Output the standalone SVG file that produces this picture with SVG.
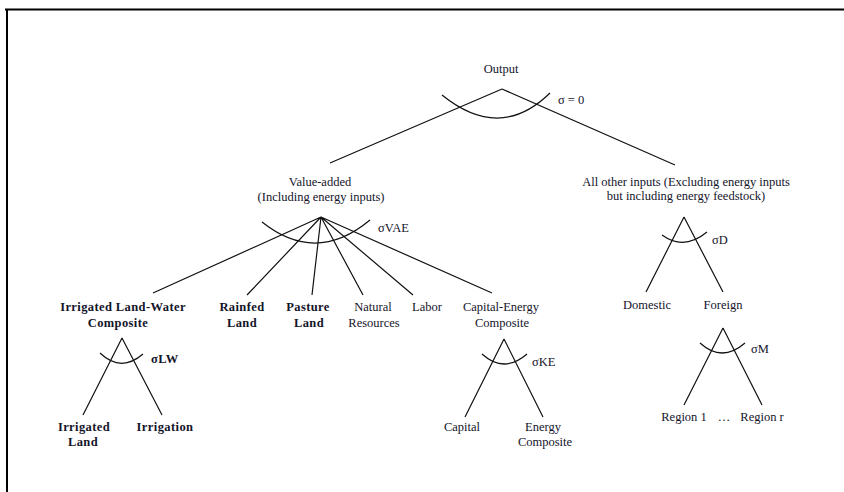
<svg xmlns="http://www.w3.org/2000/svg" width="844" height="492" viewBox="0 0 844 492">
<style>
text{font-family:"Liberation Serif","Times New Roman",serif;font-size:12.5px;fill:#14142a;text-anchor:middle}
.b{font-weight:bold;font-size:12.5px;letter-spacing:0.4px}
.s{text-anchor:start}
.ln{stroke:#111;stroke-width:1.2;fill:none}
.arc{stroke:#111;stroke-width:1.2;fill:none}
</style>
<rect width="844" height="492" fill="#fff"/>
<g id="frame"><path d="M5 9.5H844M7 8.5V492" stroke="#000" stroke-width="2" fill="none"/></g>
<g id="connectors">
<path class="ln" d="M502 89L330 163M502 89L675 165"/>
<path class="ln" d="M321 217L153 293M321 217L247 295M321 217L312 295M321 217L363 295M321 217L413 295M321 217L492 293"/>
<path class="ln" d="M122 338L83 415M122 338L162 415"/>
<path class="ln" d="M504 339L465 417M504 339L543 417"/>
<path class="ln" d="M684 217L646 292M684 217L723 292"/>
<path class="ln" d="M723 328L684 405M723 328L762 405"/>
<path class="arc" d="M442 95Q500 142 550 93"/>
<path class="arc" d="M262 222Q316 265 370 220"/>
<path class="arc" d="M100 353Q121 373 143 354"/>
<path class="arc" d="M482 354Q504 374 527 354"/>
<path class="arc" d="M662 235Q684 251 707 232"/>
<path class="arc" d="M700 343Q722 363 745 343"/>
</g>
<g id="output"><text x="501" y="73">Output</text><text class="s" x="558" y="104">σ = 0</text></g>
<g id="value-added"><text x="320" y="186">Value-added</text><text x="321" y="201">(Including energy inputs)</text><text class="s" x="378" y="232">σVAE</text></g>
<g id="all-other"><text x="686" y="186">All other inputs (Excluding energy inputs</text><text x="686" y="200">but including energy feedstock)</text><text class="s" x="712" y="244">σD</text></g>
<g id="irrigated-lw"><text class="b" x="123" y="311">Irrigated Land-Water</text><text class="b" x="118" y="327">Composite</text><text class="b s" x="151" y="363">σLW</text></g>
<g id="rainfed"><text class="b" x="242" y="311">Rainfed</text><text class="b" x="242" y="327">Land</text></g>
<g id="pasture"><text class="b" x="308" y="311">Pasture</text><text class="b" x="309" y="327">Land</text></g>
<g id="natural"><text x="373" y="311">Natural</text><text x="374" y="327">Resources</text></g>
<g id="labor"><text x="427" y="311">Labor</text></g>
<g id="capital-energy"><text x="501" y="311">Capital-Energy</text><text x="502" y="327">Composite</text><text class="s" x="532" y="366">σKE</text></g>
<g id="irrigated-land"><text class="b" x="84" y="431">Irrigated</text><text class="b" x="83" y="446">Land</text></g>
<g id="irrigation"><text class="b" x="165" y="431">Irrigation</text></g>
<g id="capital"><text x="462" y="431">Capital</text></g>
<g id="energy"><text x="543" y="431">Energy</text><text x="545" y="446">Composite</text></g>
<g id="domestic"><text x="647" y="309">Domestic</text></g>
<g id="foreign"><text x="723" y="309">Foreign</text><text class="s" x="751" y="353">σM</text></g>
<g id="region1"><text x="684" y="421">Region 1</text></g>
<g id="dots"><text x="724" y="421">…</text></g>
<g id="regionr"><text x="762" y="421">Region r</text></g>
</svg>
